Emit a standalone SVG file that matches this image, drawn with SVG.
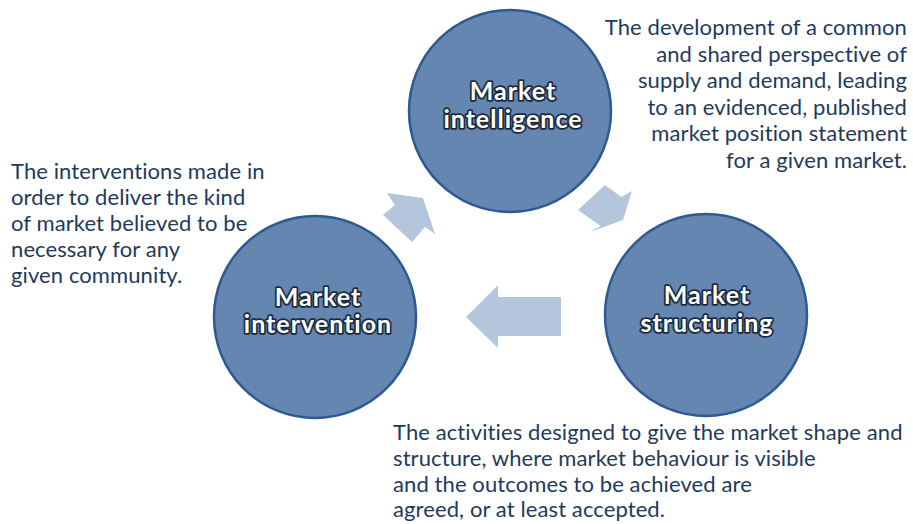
<svg xmlns="http://www.w3.org/2000/svg" width="913" height="524" viewBox="0 0 913 524">
<style>
.circ{fill:#6586b0;stroke:#2d5a92;stroke-width:2.5}
.lbl{font-family:Lato,"Open Sans",sans-serif;font-weight:bold;font-size:25px;letter-spacing:1px;fill:#ffffff;stroke:#1b2a3e;stroke-width:3.5;paint-order:stroke;stroke-linejoin:round;text-anchor:middle}
.desc{font-family:Lato,"Open Sans",sans-serif;font-size:22px;letter-spacing:0.1px;fill:#1e3a5c}
.arr{fill:#b3c6dc}
</style>
<rect width="913" height="524" fill="#ffffff"/>
<g id="connectors">
<polygon class="arr" points="423,198 435,234 425,227 412,242 383,215 395,205 387,193"/>
<polygon class="arr" points="605,185 621.5,197 632,191 623,220 590,232 600.5,226 578,210"/>
<polygon class="arr" points="466,317 498,285 498,297 561,297 561,336 498,336 498,348"/>
</g>
<g id="node-intelligence">
<circle class="circ" cx="510" cy="111" r="101"/>
<text class="lbl" x="513" y="100">Market</text>
<text class="lbl" x="513" y="128">intelligence</text>
</g>
<g id="node-intervention">
<circle class="circ" cx="315" cy="317" r="101"/>
<text class="lbl" x="318" y="306">Market</text>
<text class="lbl" x="318" y="333">intervention</text>
</g>
<g id="node-structuring">
<circle class="circ" cx="706" cy="315" r="101"/>
<text class="lbl" x="707" y="304">Market</text>
<text class="lbl" x="707" y="332">structuring</text>
</g>
<g id="text-intelligence" class="desc" text-anchor="end">
<text x="907" y="35">The development of a common</text>
<text x="907" y="61.5">and shared perspective of</text>
<text x="907" y="88">supply and demand, leading</text>
<text x="907" y="114.5">to an evidenced, published</text>
<text x="907" y="141">market position statement</text>
<text x="907" y="167.5">for a given market.</text>
</g>
<g id="text-intervention" class="desc">
<text x="11" y="179">The interventions made in</text>
<text x="11" y="205">order to deliver the kind</text>
<text x="11" y="231">of market believed to be</text>
<text x="11" y="257">necessary for any</text>
<text x="11" y="283">given community.</text>
</g>
<g id="text-structuring" class="desc">
<text x="393" y="440">The activities designed to give the market shape and</text>
<text x="393" y="466">structure, where market behaviour is visible</text>
<text x="393" y="491.5">and the outcomes to be achieved are</text>
<text x="393" y="517">agreed, or at least accepted.</text>
</g>
</svg>
